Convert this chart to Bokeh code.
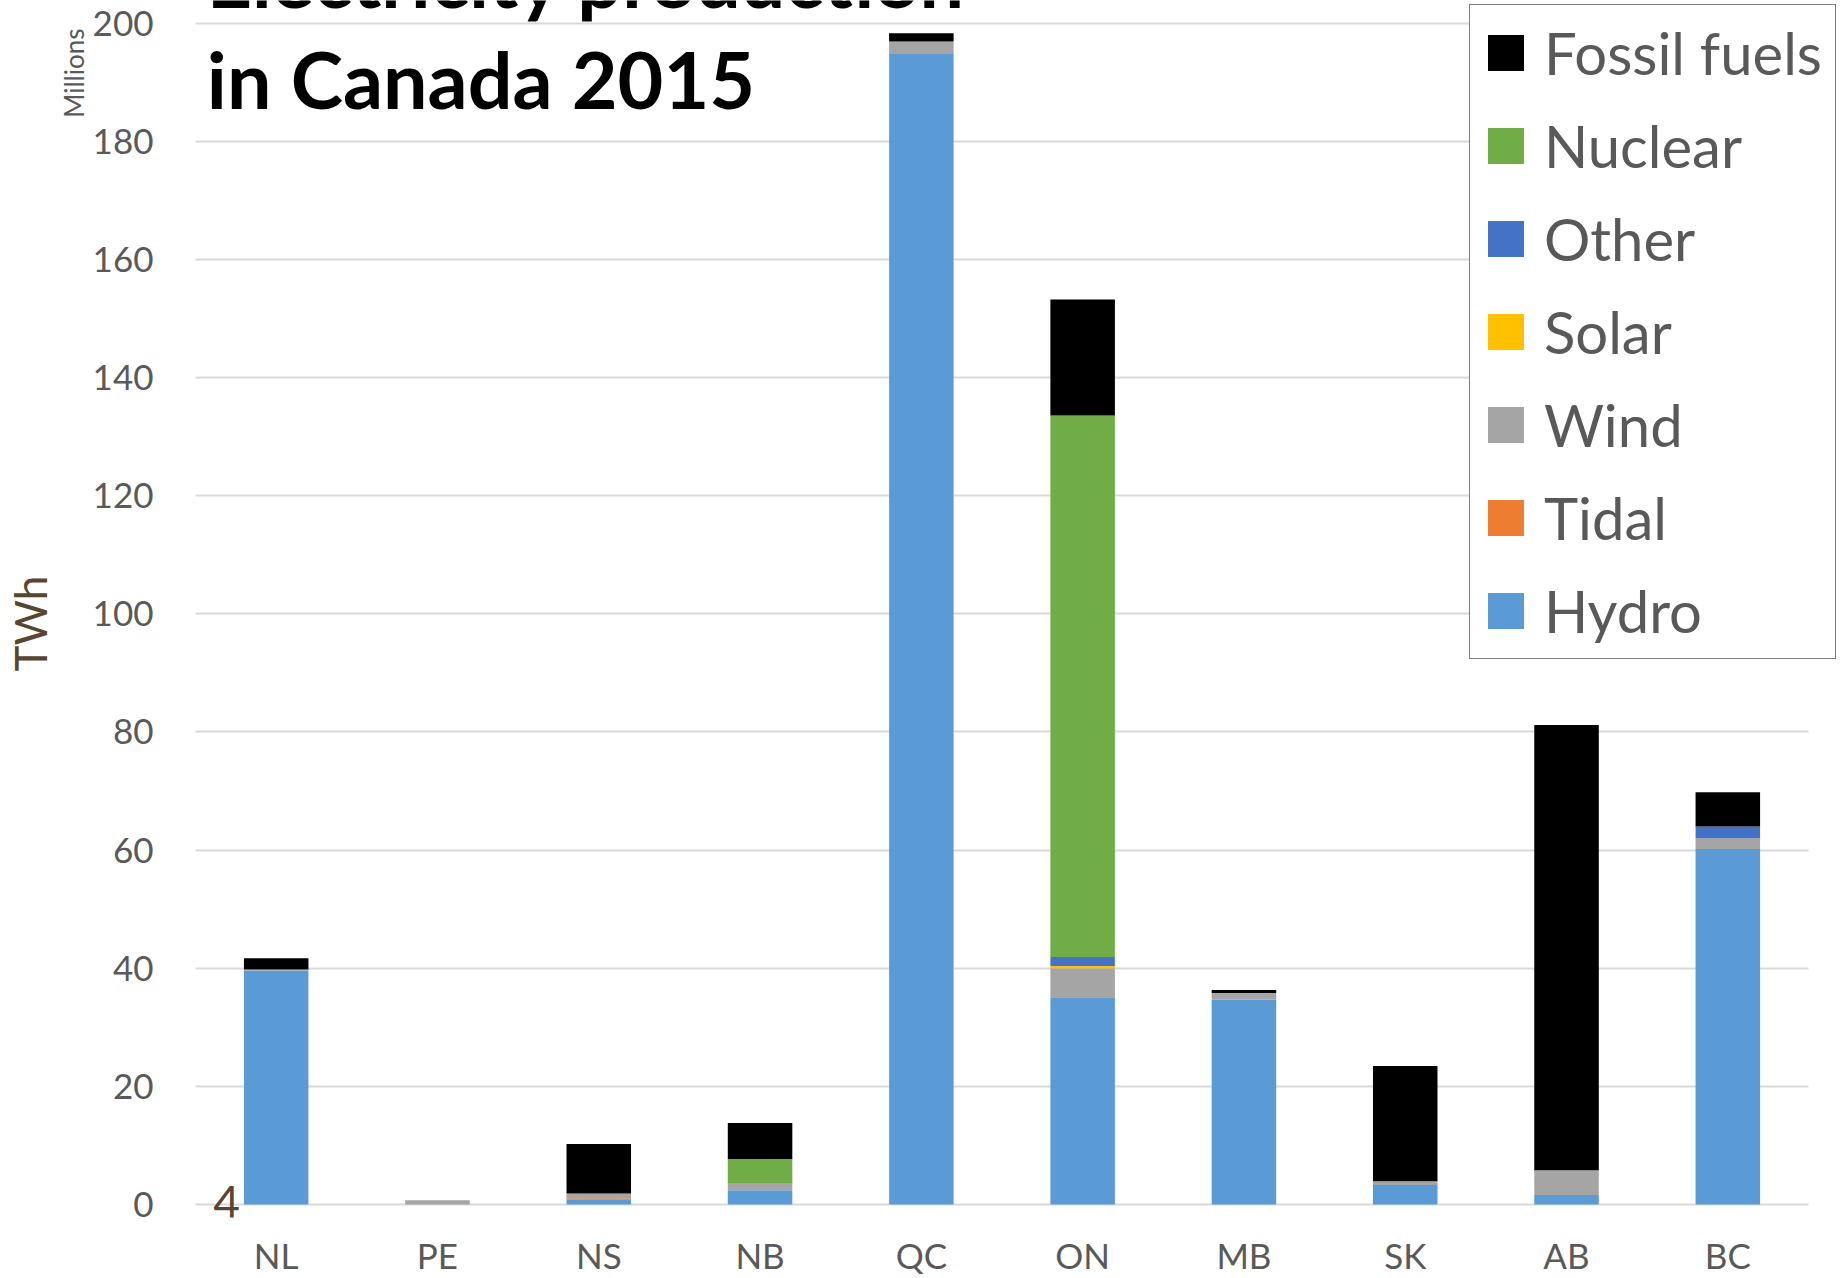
import math
from bokeh.plotting import figure
from bokeh.models import (FactorRange, Range1d, FixedTicker, Legend, LegendItem, Label, Title)
from bokeh.embed import file_html
from bokeh.resources import INLINE

# ---- data (TWh) ----
provinces = ["NL", "PE", "NS", "NB", "QC", "ON", "MB", "SK", "AB", "BC"]
hydro   = [39.6, 0.0, 0.9, 2.4, 194.8, 35.1, 34.7, 3.3, 1.6, 60.2]
tidal   = [0.0, 0.0, 0.15, 0.0, 0.0, 0.0, 0.0, 0.0, 0.0, 0.0]
wind    = [0.2, 0.7, 0.8, 1.1, 2.1, 4.9, 1.1, 0.65, 4.2, 1.8]
solar   = [0.0, 0.0, 0.0, 0.0, 0.0, 0.4, 0.0, 0.0, 0.0, 0.0]
other   = [0.0, 0.0, 0.0, 0.0, 0.0, 1.5, 0.0, 0.0, 0.0, 2.0]
nuclear = [0.0, 0.0, 0.0, 4.2, 0.0, 91.7, 0.0, 0.0, 0.0, 0.0]
fossil  = [1.9, 0.0, 8.4, 6.1, 1.4, 19.6, 0.5, 19.5, 75.4, 5.8]

sources = ["Hydro", "Tidal", "Wind", "Solar", "Other", "Nuclear", "Fossil fuels"]
colors  = ["#5B9BD5", "#ED7D31", "#A5A5A5", "#FFC000", "#4472C4", "#70AD47", "#000000"]
y_ticks = [0, 20, 40, 60, 80, 100, 120, 140, 160, 180, 200]

data = {"province": provinces, "Hydro": hydro, "Tidal": tidal, "Wind": wind,
        "Solar": solar, "Other": other, "Nuclear": nuclear, "Fossil fuels": fossil}

GRAY = "#595959"
BROWN = "#584631"

p = figure(x_range=FactorRange(*provinces, range_padding=0.18,
                               range_padding_units="absolute"),
           y_range=Range1d(-2.2, 203.84),
           width=1845, height=1278, output_backend="svg", toolbar_location=None,
           min_border_left=166, min_border_right=8, min_border_top=0,
           min_border_bottom=60)
p.outline_line_color = None
p.background_fill_color = "white"

rs = p.vbar_stack(sources, x="province", width=0.4, source=data,
                  fill_color=colors, line_color=None)

# axes
p.yaxis.ticker = FixedTicker(ticks=y_ticks)
for ax in (p.xaxis[0], p.yaxis[0]):
    ax.axis_line_color = None
    ax.major_tick_line_color = None
    ax.minor_tick_line_color = None
    ax.major_tick_out = 0
    ax.major_tick_in = 0
    ax.minor_tick_out = 0
    ax.minor_tick_in = 0
    ax.major_label_text_font = "Lato"
    ax.major_label_text_font_size = "35px"
    ax.major_label_text_color = GRAY
p.yaxis.major_label_standoff = 13
p.xaxis.major_label_standoff = 16

p.xgrid.grid_line_color = None
p.ygrid.grid_line_color = "#D9D9D9"
p.ygrid.grid_line_width = 2
try:
    p.ygrid[0].cross_bounds = (0, len(provinces))
except Exception:
    pass

# side titles: "Millions" (display units) and "TWh"
p.add_layout(Title(text="Millions", align="right", offset=28, standoff=0,
                   vertical_align="bottom", text_font="Lato", text_font_size="26px",
                   text_font_style="normal", text_color=GRAY), "left")
p.add_layout(Title(text="TWh", align="left", offset=546, standoff=0,
                   vertical_align="bottom", text_font="Lato", text_font_size="44px",
                   text_font_style="normal", text_color=BROWN), "left")

# legend (top to bottom: reverse of stack)
items = [LegendItem(label=s, renderers=[r]) for s, r in zip(sources, rs)][::-1]
legend = Legend(items=items, location=(1303, 558), orientation="vertical",
                label_text_font="Lato", label_text_font_size="58px",
                label_text_color=GRAY, glyph_width=45, glyph_height=45,
                label_standoff=16, padding=13, spacing=24, margin=0,
                border_line_color="black", border_line_width=1.5,
                background_fill_color="white", background_fill_alpha=1.0)
p.add_layout(legend)

# chart title (two lines; first line runs off the top edge)
p.add_layout(Label(x=0.07, y=207.7, text="Electricity production",
                   text_font="Lato", text_font_style="bold", text_font_size="79px",
                   text_color="black", text_baseline="middle"))
p.add_layout(Label(x=0.07, y=190.65, text="in Canada 2015",
                   text_font="Lato", text_font_style="bold", text_font_size="79px",
                   text_color="black", text_baseline="middle"))
p.add_layout(Label(x=0.192, y=0.4, text="4", text_font="Lato",
                   text_font_size="46px", text_color=BROWN,
                   text_align="center", text_baseline="middle"))

open("out.html", "w").write(file_html(p, INLINE))
